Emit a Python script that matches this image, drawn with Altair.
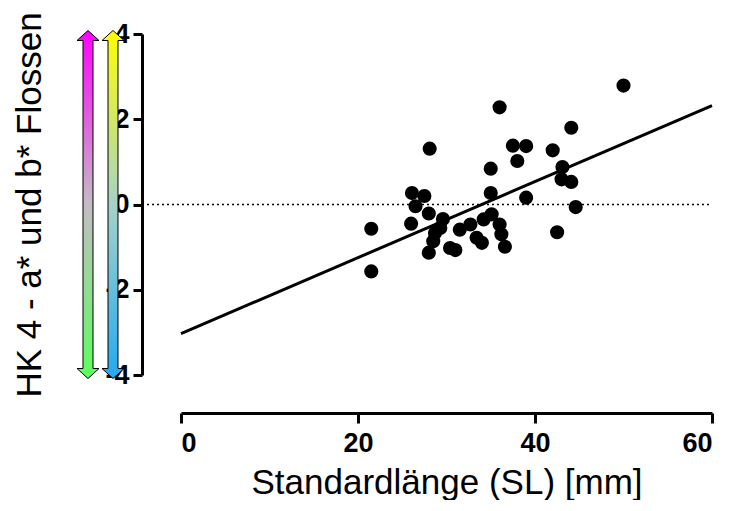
import altair as alt
import pandas as pd

# Scatter data: Standardlänge (SL) [mm] vs HK 4
sl = [50.0, 36.0, 44.1, 28.1, 37.5, 39.0, 42.0, 38.0, 35.0, 43.1, 43.0, 44.1, 35.0,
      39.0, 26.1, 27.5, 26.5, 44.6, 28.0, 29.6, 21.5, 26.0, 35.1, 34.2, 36.0, 31.5,
      32.7, 36.2, 42.5, 29.3, 28.7, 28.5, 33.4, 34.0, 36.6, 30.4, 31.0, 28.0, 21.5]
hk = [2.79, 2.28, 1.80, 1.31, 1.38, 1.37, 1.27, 1.02, 0.84, 0.88, 0.59, 0.53, 0.27,
      0.16, 0.27, 0.20, -0.04, -0.06, -0.21, -0.34, -0.57, -0.45, -0.23, -0.35, -0.47,
      -0.59, -0.47, -0.70, -0.65, -0.55, -0.67, -0.86, -0.78, -0.90, -0.99, -1.02,
      -1.07, -1.13, -1.57]

# fitted line end points
fit_x = [0, 60]
fit_y = [-3.03, 2.32]

x_ticks = [0, 20, 40, 60]
y_ticks = [-4, -2, 0, 2, 4]

FONT = "Liberation Sans"

df = pd.DataFrame({"sl": sl, "hk": hk})
fit_df = pd.DataFrame({"sl": fit_x, "hk": fit_y})
zero = pd.DataFrame({"y": [0]})

xs = alt.Scale(domain=[0, 60], nice=False, zero=False)
ys = alt.Scale(domain=[-4, 4], nice=False, zero=False)

x_axis = alt.Axis(values=x_ticks, offset=38, tickSize=10, tickWidth=3, domainWidth=3,
                  domainColor="black", tickColor="black", grid=False,
                  labelFont=FONT, labelFontWeight="bold", labelFontSize=27,
                  labelColor="black", labelPadding=7,
                  titleFont=FONT, titleFontWeight="normal", titleFontSize=35,
                  titleColor="black", titlePadding=9)
y_axis = alt.Axis(values=y_ticks, offset=39, tickSize=9, tickWidth=3, domainWidth=3,
                  domainColor="black", tickColor="black", grid=False,
                  labelExpr="toString(datum.value)",
                  labelFont=FONT, labelFontWeight="bold", labelFontSize=27,
                  labelColor="black", labelPadding=4,
                  titleFont=FONT, titleFontWeight="normal", titleFontSize=35,
                  titleColor="black", titlePadding=57)

points = alt.Chart(df).mark_circle(size=200, color="black", opacity=1).encode(
    x=alt.X("sl:Q", scale=xs, axis=x_axis, title="Standardlänge (SL) [mm]"),
    y=alt.Y("hk:Q", scale=ys, axis=y_axis, title="HK 4 - a* und b* Flossen"),
)

fit = alt.Chart(fit_df).mark_line(color="black", strokeWidth=3).encode(
    x=alt.X("sl:Q", scale=xs), y=alt.Y("hk:Q", scale=ys)
)

zero_line = alt.Chart(zero).mark_rule(
    color="black", strokeDash=[2, 3], strokeWidth=1.5
).encode(y=alt.Y("y:Q", scale=ys), x=alt.value(-34), x2=alt.value(531))

# double-headed arrow as a custom symbol path
arrow_path = ("M 0 -1 L 0.0632 -0.9425 L 0.0287 -0.9425 L 0.0287 0.9425 "
              "L 0.0632 0.9425 L 0 1 L -0.0632 0.9425 L -0.0287 0.9425 "
              "L -0.0287 -0.9425 L -0.0632 -0.9425 Z")

grad_a = alt.LinearGradient(
    gradient="linear", x1=0, y1=0, x2=0, y2=1,
    stops=[alt.GradientStop(offset=0, color="#ff00ff"),
           alt.GradientStop(offset=0.5, color="#c4bcc4"),
           alt.GradientStop(offset=1, color="#5cff5c")])
grad_b = alt.LinearGradient(
    gradient="linear", x1=0, y1=0, x2=0, y2=1,
    stops=[alt.GradientStop(offset=0, color="#ffff00"),
           alt.GradientStop(offset=0.5, color="#a6d2c8"),
           alt.GradientStop(offset=1, color="#22aaf0")])

arrow_a = alt.Chart(zero).mark_point(
    shape=arrow_path, size=121104, filled=True, fill=grad_a, stroke="black",
    strokeWidth=1, opacity=1
).encode(x=alt.value(-93), y=alt.Y("y:Q", scale=ys))
arrow_b = alt.Chart(zero).mark_point(
    shape=arrow_path, size=121104, filled=True, fill=grad_b, stroke="black",
    strokeWidth=1, opacity=1
).encode(x=alt.value(-68), y=alt.Y("y:Q", scale=ys))

chart = alt.layer(zero_line, fit, points, arrow_a, arrow_b).properties(
    width=531, height=341,
    autosize=alt.AutoSizeParams(type="none"),
    padding={"left": 173, "top": 26, "right": 15, "bottom": 125},
).configure(background="white").configure_view(stroke=None)

chart.save("out.html", embed_options={"renderer": "svg", "actions": False})
